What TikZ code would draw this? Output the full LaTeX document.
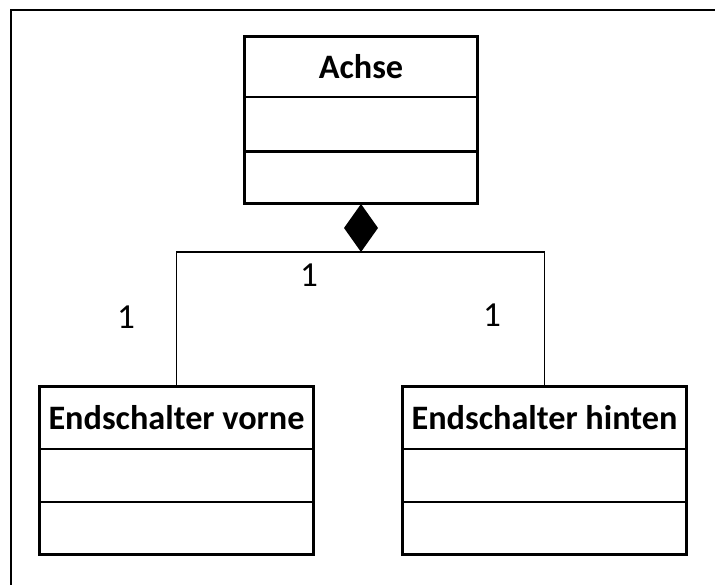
\documentclass[tikz,border=0pt]{standalone}
\usepackage{fontspec}
\setmainfont{Carlito}
\usetikzlibrary{positioning,shapes.geometric}

\begin{document}
\begin{tikzpicture}[x=0.02cm, y=-0.02cm, node distance=0pt,
  kopf/.style={draw, line width=1.7pt, outer sep=0pt, inner sep=0pt, font=\fontsize{19.5}{23}\selectfont\bfseries},
  fach/.style={draw, line width=1.7pt, outer sep=0pt, inner sep=0pt},
  raute/.style={diamond, fill=black, inner sep=0pt, outer sep=0pt, minimum width=0.68cm, minimum height=0.96cm},
  mult/.style={font=\fontsize{20}{24}\selectfont}]
\useasboundingbox (0,0) rectangle (715,585);
% Rahmen
\draw[line width=1.2pt] (715,10) -| (11,585);

% Achse
\node[kopf, minimum width=4.68cm, minimum height=1.22cm] (achse) at (361,66.5) {Achse};
\node[fach, minimum width=4.68cm, minimum height=1.10cm, below=of achse] (achse-attr) {};
\node[fach, minimum width=4.68cm, minimum height=1.04cm, below=of achse-attr] (achse-op) {};
\node[raute, below=of achse-op] (komp) {};

% Endschalter
\node[kopf, minimum width=5.5cm, minimum height=1.26cm] (vorne) at (176.5,417.5) {Endschalter vorne};
\node[fach, minimum width=5.5cm, minimum height=1.06cm, below=of vorne] (vorne-attr) {};
\node[fach, minimum width=5.5cm, minimum height=1.06cm, below=of vorne-attr] (vorne-op) {};

\node[kopf, minimum width=5.7cm, minimum height=1.26cm] (hinten) at (544.5,417.5) {Endschalter hinten};
\node[fach, minimum width=5.7cm, minimum height=1.06cm, below=of hinten] (hinten-attr) {};
\node[fach, minimum width=5.7cm, minimum height=1.06cm, below=of hinten-attr] (hinten-op) {};

\draw[line width=0.9pt] (vorne.north) |- (komp.south) -| (hinten.north);

% Multiplizitaeten
\node[mult] (m-achse) at (309,275) {1};
\node[mult] (m-vorne) at (126,317) {1};
\node[mult] (m-hinten) at (492,315) {1};
\end{tikzpicture}
\end{document}
